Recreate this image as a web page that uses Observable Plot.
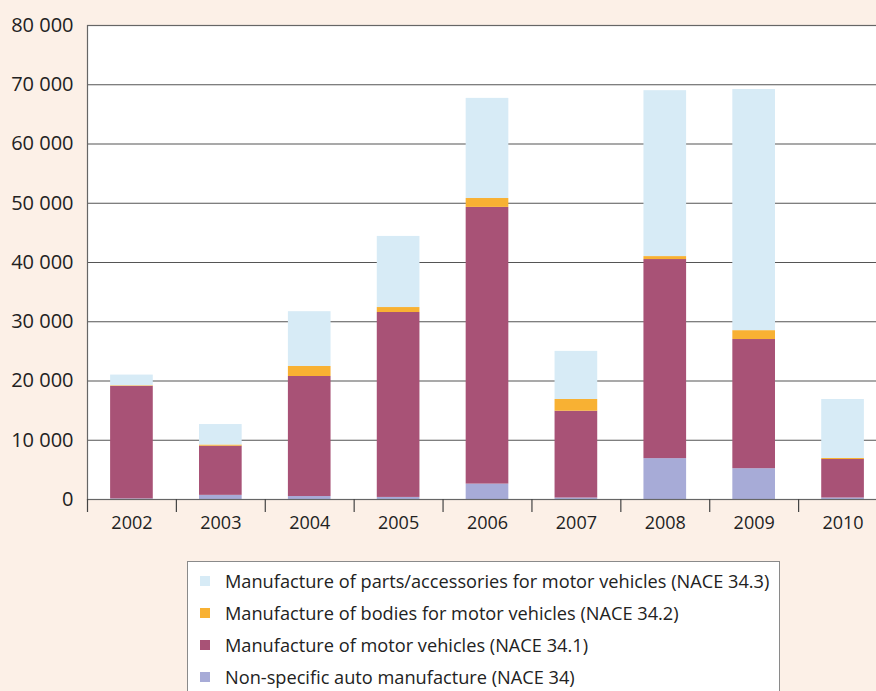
<!DOCTYPE html>
<html>
<head>
<meta charset="utf-8">
<script src="https://cdn.jsdelivr.net/npm/d3@7"></script>
<script src="https://cdn.jsdelivr.net/npm/@observablehq/plot@0.6"></script>
<style>
  html, body { margin: 0; padding: 0; background: #fcf0e7; width: 876px; height: 691px; overflow: hidden; }
  body { font-family: "Open Sans", "Noto Sans", sans-serif; color: #222; }
  #chart svg { display: block; }
  #legend {
    position: absolute; left: 187px; top: 561px; width: 593px; height: 150px;
    background: #fff; border: 1px solid #8a8a8a; box-sizing: border-box;
    padding-top: 3px;
  }
  .item { display: flex; align-items: center; height: 32px; font-size: 18.2px; color: #222; white-space: nowrap; }
  .sw { width: 10px; height: 10px; margin-left: 12px; margin-right: 15px; flex: none; }
</style>
</head>
<body>
<div id="chart"></div>
<div id="legend"></div>
<script>
const years = ["2002","2003","2004","2005","2006","2007","2008","2009","2010"];
const seriesNames = [
  "Non-specific auto manufacture (NACE 34)",
  "Manufacture of motor vehicles (NACE 34.1)",
  "Manufacture of bodies for motor vehicles (NACE 34.2)",
  "Manufacture of parts/accessories for motor vehicles (NACE 34.3)"
];
const seriesColors = ["#a7abd7", "#a85276", "#f8b133", "#d7ebf6"];
const nonSpecific = [100, 700, 500, 350, 2600, 250, 6900, 5200, 250];
const motorVehicles = [19000, 8300, 20260, 31210, 46700, 14650, 33600, 21800, 6500];
const bodies = [100, 200, 1690, 840, 1500, 1980, 500, 1500, 170];
const parts = [1800, 3450, 9250, 12000, 16900, 8120, 28000, 40700, 9960];
const yTicks = [0, 10000, 20000, 30000, 40000, 50000, 60000, 70000, 80000];

const seriesValues = [nonSpecific, motorVehicles, bodies, parts];
const data = [];
seriesNames.forEach((s, si) => years.forEach((y, i) => data.push({year: y, series: s, value: seriesValues[si][i]})));

const width = 876, marginLeft = 87, marginRight = -11;
const step = (width - marginLeft - marginRight) / years.length;
const fmt = d => d3.format(",")(d).replace(/,/g, " ");

const plot = Plot.plot({
  width, height: 540,
  marginTop: 25, marginBottom: 41, marginLeft, marginRight,
  style: {fontFamily: '"Open Sans", "Noto Sans", sans-serif', background: "transparent", overflow: "hidden"},
  x: {domain: years, paddingInner: 0.52, paddingOuter: 0.26, round: false, label: null},
  y: {domain: [0, 80000], label: null},
  color: {domain: seriesNames, range: seriesColors},
  marks: [
    Plot.frame({fill: "#fff", stroke: "none"}),
    Plot.gridY(yTicks, {stroke: "#555", strokeOpacity: 1, strokeWidth: 1.2}),
    Plot.barY(data, {x: "year", y: "value", fill: "series", order: seriesNames}),
    Plot.ruleY([0], {stroke: "#222", strokeWidth: 1.2}),
    Plot.frame({stroke: "#666", strokeWidth: 1.2, fill: "none"}),
    Plot.axisY(yTicks, {tickSize: 0, tickPadding: 14, tickFormat: fmt, fontSize: 20, fill: "#222"}),
    Plot.axisX({tickSize: 13, text: null, dx: -step / 2, stroke: "#444", strokeWidth: 1.2}),
    Plot.axisX({tickSize: 0, tickPadding: 17, fontSize: 18, fill: "#222"})
  ]
});
document.getElementById("chart").appendChild(plot);

const legend = document.getElementById("legend");
[3, 2, 1, 0].forEach(i => {
  const row = document.createElement("div");
  row.className = "item";
  const sw = document.createElement("span");
  sw.className = "sw";
  sw.style.background = seriesColors[i];
  const t = document.createElement("span");
  t.textContent = seriesNames[i];
  row.appendChild(sw); row.appendChild(t);
  legend.appendChild(row);
});
</script>
</body>
</html>
